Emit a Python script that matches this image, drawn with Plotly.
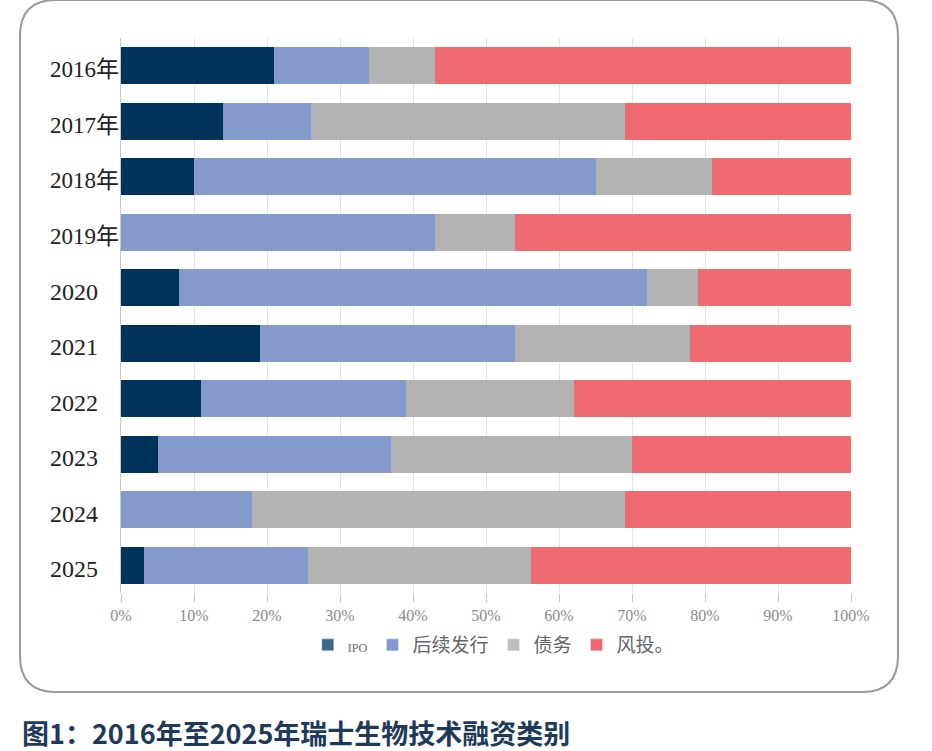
import plotly.graph_objects as go

years = ["2016年", "2017年", "2018年", "2019年", "2020", "2021", "2022", "2023", "2024", "2025"]
series_names = ["IPO", "后续发行", "债务", "风投。"]
ipo = [21, 14, 10, 0, 8, 19, 11, 5, 0, 3.2]
follow_on = [13, 12, 55, 43, 64, 35, 28, 32, 18, 22.4]
debt = [9, 43, 16, 11, 7, 24, 23, 33, 51, 30.6]
venture = [57, 31, 19, 46, 21, 22, 38, 30, 31, 43.8]
x_ticks = [0, 10, 20, 30, 40, 50, 60, 70, 80, 90, 100]
title_text = "图1：2016年至2025年瑞士生物技术融资类别"

bar_colors = ["#003359", "#839ACB", "#B3B3B3", "#F06A72"]
legend_colors = ["#3F6688", "#8398CB", "#BEBEBE", "#F0646F"]

W, H = 932, 751
L, R, T, B = 121, 851, 38, 593


def px(xp):
    return (xp - L) / (R - L)


def py(yp):
    return (B - yp) / (B - T)


fig = go.Figure()
for name, vals, col in zip(series_names, [ipo, follow_on, debt, venture], bar_colors):
    fig.add_trace(go.Bar(y=years, x=vals, orientation="h", name=name,
                         marker=dict(color=col, line=dict(width=0)), showlegend=False))

legend_labels = ["<span style='font-size:12px;font-family:Liberation Serif'>IPO</span>",
                 "后续发行", "债务", "风投。"]
for lab, col in zip(legend_labels, legend_colors):
    fig.add_trace(go.Bar(y=[years[0]], x=[0], orientation="h", name=lab,
                         marker=dict(color=col), showlegend=True, hoverinfo="skip"))

annotations = []
for i, yr in enumerate(years):
    has_nian = yr.endswith("年")
    annotations.append(dict(
        x=0, xref="paper", y=i, yref="y", text=yr, showarrow=False,
        xanchor="right", yanchor="middle", xshift=0 if has_nian else -21, yshift=-4,
        font=dict(family="Liberation Serif, Noto Sans CJK SC", size=23 if has_nian else 24,
                  color="#222222")))

annotations.append(dict(
    x=px(20), xref="paper", y=py(732), yref="paper", text="<b>" + title_text + "</b>",
    showarrow=False, xanchor="left", yanchor="middle",
    font=dict(family="Noto Sans CJK SC", size=27, color="#1d3a5b")))

# rounded border box
x0, x1, y0, y1, r = 20, 898, 0, 692, 36


def P(xp, yp):
    return f"{px(xp):.5f},{py(yp):.5f}"


path = (f"M {P(x0 + r, y0)} L {P(x1 - r, y0)} Q {P(x1, y0)} {P(x1, y0 + r)} "
        f"L {P(x1, y1 - r)} Q {P(x1, y1)} {P(x1 - r, y1)} "
        f"L {P(x0 + r, y1)} Q {P(x0, y1)} {P(x0, y1 - r)} "
        f"L {P(x0, y0 + r)} Q {P(x0, y0)} {P(x0 + r, y0)} Z")
shapes = [dict(type="path", xref="paper", yref="paper", path=path,
               line=dict(color="#9a9a9a", width=2), layer="below")]

fig.update_layout(
    width=W, height=H,
    margin=dict(l=L, r=W - R, t=T, b=H - B),
    barmode="stack", bargap=0.33,
    plot_bgcolor="white", paper_bgcolor="white",
    showlegend=True,
    legend=dict(orientation="h", x=0.51, xanchor="center", y=py(645), yanchor="middle",
                font=dict(family="Noto Sans CJK SC", size=19, color="#666666"),
                itemwidth=30, traceorder="normal"),
    xaxis=dict(range=[0, 100], tickvals=x_ticks, ticktext=[f"{v}%" for v in x_ticks],
               showgrid=True, gridcolor="#e3e3e3", gridwidth=1, zeroline=False,
               ticks="outside", ticklen=8, tickcolor="#c4c4c4",
               tickfont=dict(family="Liberation Serif", size=16, color="#8a8a8a"),
               showline=False),
    yaxis=dict(type="category", categoryorder="array", categoryarray=years,
               range=[len(years) - 0.5, -0.5],
               showticklabels=False, showgrid=False, zeroline=False, ticks="",
               showline=True, linecolor="#c8c8c8", linewidth=1),
    annotations=annotations,
    shapes=shapes,
)

fig.write_html("out.html")
